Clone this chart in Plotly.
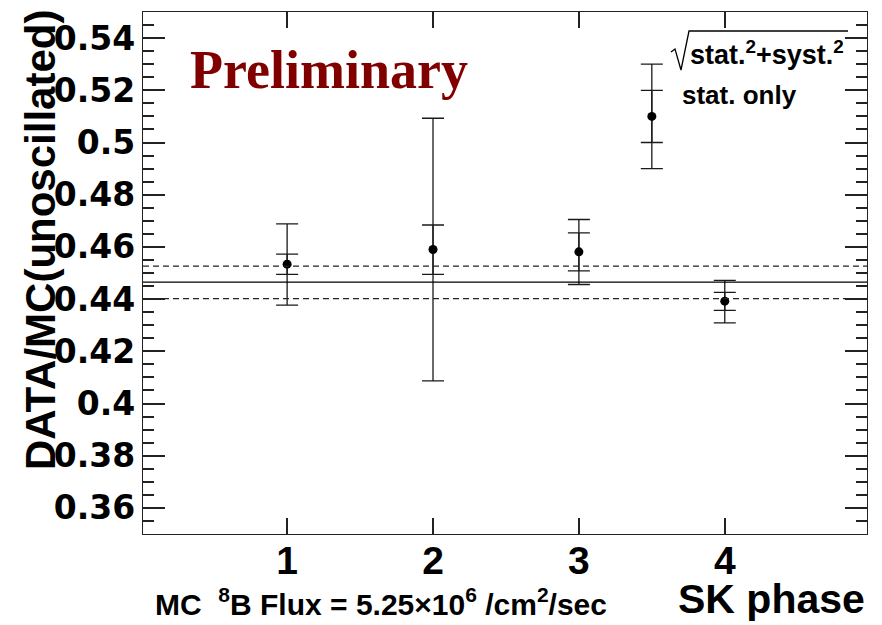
import plotly.graph_objects as go

# ---- data ----
phases = [1, 2, 3, 4]
ratio = [0.4534, 0.4590, 0.4581, 0.4392]
tot_hi = [0.4688, 0.5093, 0.4705, 0.4472]
tot_lo = [0.4377, 0.4087, 0.4456, 0.4309]
stat_hi = [0.4572, 0.4684, 0.4654, 0.4426]
stat_lo = [0.4495, 0.4495, 0.4508, 0.4357]

combined = 0.4465
combined_hi = 0.4526
combined_lo = 0.4402

# legend sample point
leg_x = [3.5]
leg_y = [0.510]
leg_tot_hi = [0.530]
leg_tot_lo = [0.490]
leg_stat_hi = [0.520]
leg_stat_lo = [0.500]

x_ticks = [1, 2, 3, 4]
y_ticks = [0.36, 0.38, 0.40, 0.42, 0.44, 0.46, 0.48, 0.50, 0.52, 0.54]
y_minor_step = 0.005

FONT = "Liberation Sans"
EC = "#1a1a1a"
AX = "#222222"

W, H = 882, 625
ML, MR, MT, MB = 143, 15, 12, 91
PW, PH = W - ML - MR, H - MT - MB


def px(xp):
    return (xp - ML) / PW


def py(yp):
    return (H - MB - yp) / PH


def err_trace(x, y, hi, lo, marker=True):
    return go.Scatter(
        x=x, y=y, mode="markers",
        marker=dict(size=9, color="black", opacity=1 if marker else 0),
        error_y=dict(type="data", symmetric=False,
                     array=[h - v for h, v in zip(hi, y)],
                     arrayminus=[v - l for v, l in zip(y, lo)],
                     color=EC, thickness=1.3, width=11),
        showlegend=False, hoverinfo="skip",
    )


fig = go.Figure()
fig.add_trace(err_trace(phases, ratio, tot_hi, tot_lo, marker=False))
fig.add_trace(err_trace(phases, ratio, stat_hi, stat_lo, marker=True))
fig.add_trace(err_trace(leg_x, leg_y, leg_tot_hi, leg_tot_lo, marker=False))
fig.add_trace(err_trace(leg_x, leg_y, leg_stat_hi, leg_stat_lo, marker=True))

# horizontal combined lines
fig.add_shape(type="line", xref="paper", x0=0, x1=1, yref="y", y0=combined, y1=combined,
              line=dict(color="black", width=1.2))
for yv in [combined_hi, combined_lo]:
    fig.add_shape(type="line", xref="paper", x0=0, x1=1, yref="y", y0=yv, y1=yv,
                  line=dict(color="#222222", width=1.2, dash="6px,4px"))

fig.update_xaxes(range=[0.012, 4.975], tickmode="linear", tick0=x_ticks[0],
                 dtick=x_ticks[1] - x_ticks[0],
                 ticks="inside", ticklen=16, tickwidth=1.5, tickcolor=AX,
                 showline=True, linecolor=AX, linewidth=1.4, mirror="ticks",
                 showgrid=False, zeroline=False, ticklabelstandoff=-8,
                 tickfont=dict(family=FONT, size=39, color="black", weight="bold"))
fig.update_yaxes(range=[0.35, 0.55], tickmode="linear", tick0=y_ticks[0],
                 dtick=round(y_ticks[1] - y_ticks[0], 6),
                 ticks="inside", ticklen=22, tickwidth=1.5, tickcolor=AX,
                 showline=True, linecolor=AX, linewidth=1.4, mirror="ticks",
                 showgrid=False, zeroline=False,
                 minor=dict(dtick=y_minor_step, ticks="inside", ticklen=11, tickwidth=1.5,
                            tickcolor=AX),
                 tickfont=dict(family="DejaVu Sans", size=33, color="black", weight="bold"))

ann = []
ann.append(dict(text="<b>DATA/MC(unoscillated)</b>", textangle=-90, xref="paper", yref="paper",
                x=px(40), y=py(240), xanchor="center", yanchor="middle", showarrow=False,
                font=dict(family=FONT, size=42, color="black")))
ann.append(dict(text="<b>Preliminary</b>", xref="paper", yref="paper", x=px(188), y=py(70),
                xanchor="left", yanchor="middle", showarrow=False,
                font=dict(family="Liberation Serif", size=54, color="#800000")))
ann.append(dict(text="<b>stat.<sup>2</sup>+syst.<sup>2</sup></b>", xref="paper", yref="paper",
                x=px(688), y=py(53), xanchor="left", yanchor="middle", showarrow=False,
                font=dict(family=FONT, size=27, color="black")))
ann.append(dict(text="<b>stat. only</b>", xref="paper", yref="paper",
                x=px(680), y=py(95), xanchor="left", yanchor="middle", showarrow=False,
                font=dict(family=FONT, size=26, color="black")))
ann.append(dict(text="<b>SK phase</b>", xref="paper", yref="paper", x=1.0, y=py(624),
                xanchor="right", yanchor="bottom", showarrow=False,
                font=dict(family=FONT, size=41, color="black")))
ann.append(dict(text="<b>MC  <sup>8</sup>B Flux = 5.25×10<sup>6</sup> /cm<sup>2</sup>/sec</b>",
                xref="paper", yref="paper", x=px(153), y=py(602), xanchor="left", yanchor="middle",
                showarrow=False, font=dict(family=FONT, size=30, color="black")))

# square-root sign with overline
pts = [(671, 52), (675, 49), (681, 70), (689, 31), (848, 31)]
path = "M " + " L ".join(f"{px(a):.5f},{py(b):.5f}" for a, b in pts)
fig.add_shape(type="path", xref="paper", yref="paper", path=path,
              line=dict(color="black", width=1.3))

fig.update_layout(width=W, height=H, margin=dict(l=ML, r=MR, t=MT, b=MB),
                  paper_bgcolor="white", plot_bgcolor="white", annotations=ann,
                  showlegend=False)

fig.write_html("out.html")
